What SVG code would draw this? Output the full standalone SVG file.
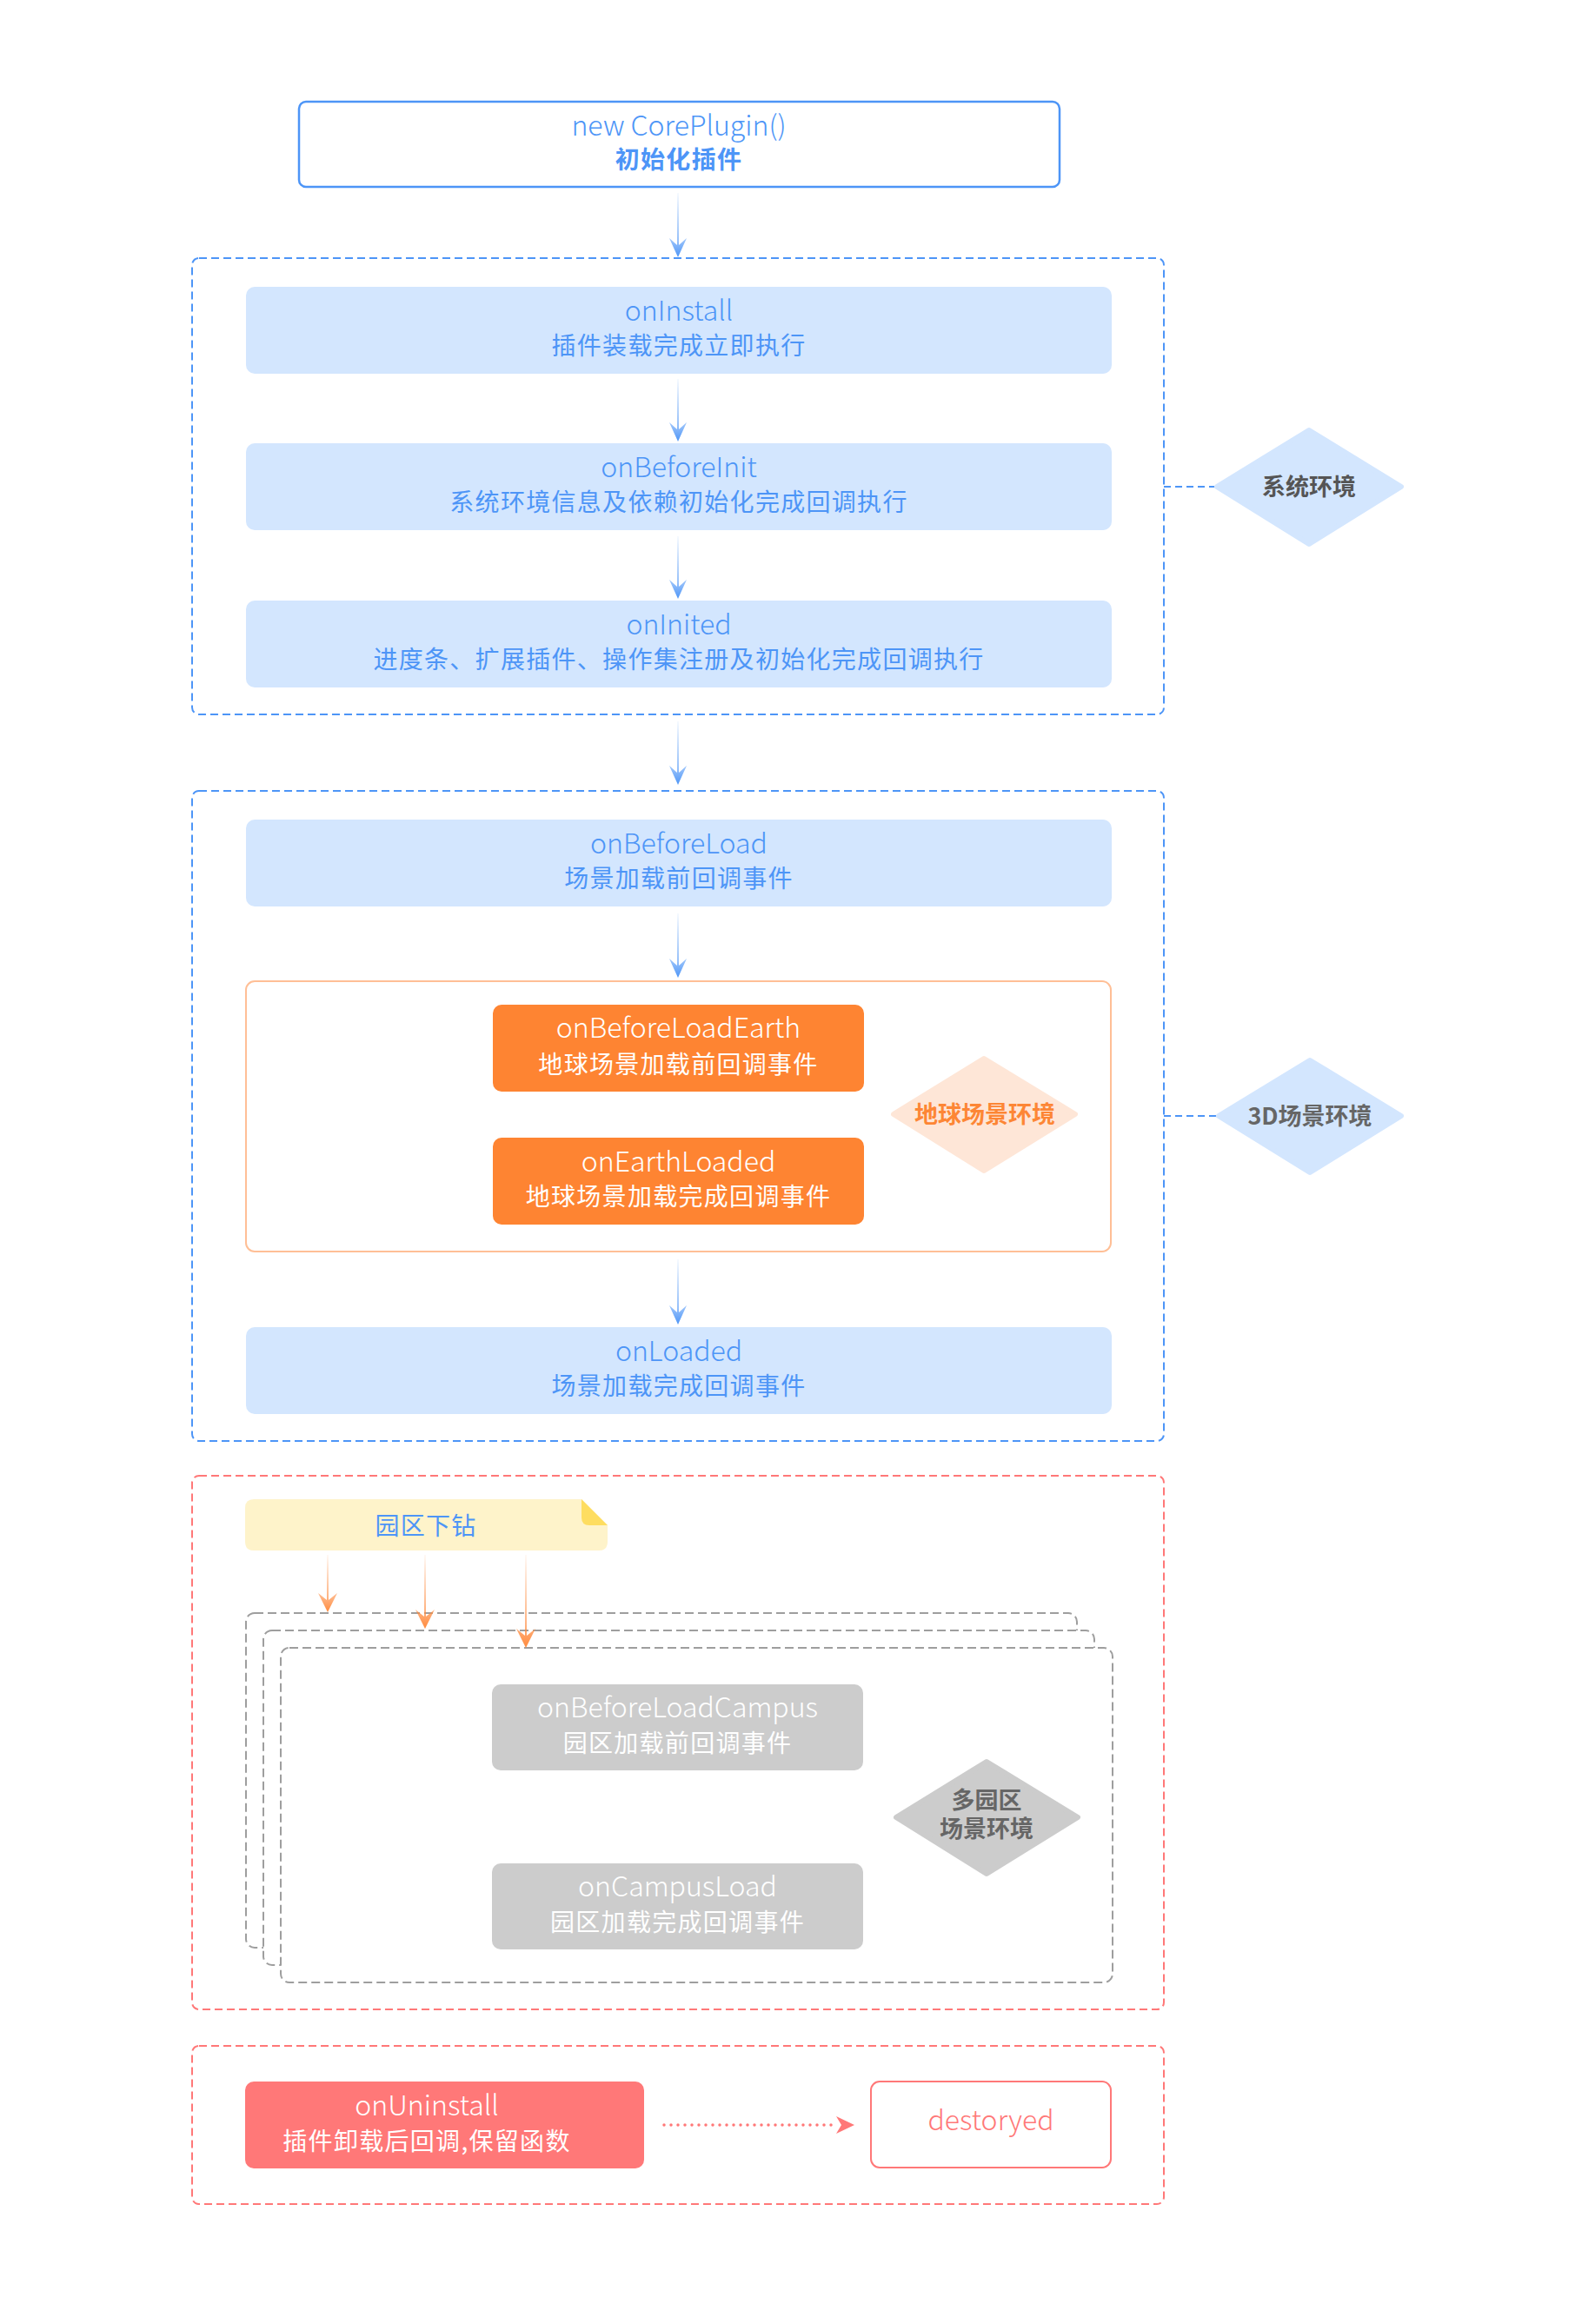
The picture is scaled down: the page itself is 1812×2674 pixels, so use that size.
<svg xmlns="http://www.w3.org/2000/svg" width="1812" height="2674" viewBox="0 0 1812 2674">
<defs>
<style>
.lat{font-family:"Noto Sans CJK SC","Noto Sans",sans-serif;font-weight:300;font-size:32px;text-anchor:middle}
.cjk{font-family:"Noto Sans CJK SC",sans-serif;font-size:28px;letter-spacing:1.3px;text-anchor:middle}
.dia{font-family:"Noto Sans CJK SC",sans-serif;font-size:27px;font-weight:700;text-anchor:middle}
.blue{fill:#4d95f7}
.wt{fill:#ffffff}
.bbox{fill:#d3e6fe}
.obox{fill:#fe8432}
.gbox{fill:#cccccc}
.bdash{fill:none;stroke:#4d95f7;stroke-width:2;stroke-dasharray:9 5}
.rdash{fill:none;stroke:#ff7878;stroke-width:2;stroke-dasharray:9 5}
.gdash{fill:#ffffff;stroke:#9e9e9e;stroke-width:2;stroke-dasharray:10 5}
.conn{fill:none;stroke:#4d95f7;stroke-width:2;stroke-dasharray:8 5}
</style>
<linearGradient id="gBlue" x1="0" y1="0" x2="0" y2="1">
<stop offset="0" stop-color="#4d95f7" stop-opacity="0.05"/>
<stop offset="0.75" stop-color="#4d95f7" stop-opacity="0.6"/>
<stop offset="1" stop-color="#4d95f7" stop-opacity="1"/>
</linearGradient>
<linearGradient id="gOr" x1="0" y1="0" x2="0" y2="1">
<stop offset="0" stop-color="#ff8a3d" stop-opacity="0.05"/>
<stop offset="0.75" stop-color="#ff8a3d" stop-opacity="0.65"/>
<stop offset="1" stop-color="#ff8a3d" stop-opacity="1"/>
</linearGradient>
<linearGradient id="gOrL" x1="0" y1="0" x2="0" y2="1">
<stop offset="0" stop-color="#ffa66b" stop-opacity="0.1"/>
<stop offset="1" stop-color="#ffa66b" stop-opacity="1"/>
</linearGradient>
<linearGradient id="gGr" x1="0" y1="0" x2="0" y2="1">
<stop offset="0" stop-color="#999999" stop-opacity="0.08"/>
<stop offset="0.75" stop-color="#999999" stop-opacity="0.6"/>
<stop offset="1" stop-color="#999999" stop-opacity="1"/>
</linearGradient>
</defs>
<rect width="1812" height="2674" fill="#ffffff"/>

<g id="blocks">
<rect id="sysBlock" x="221" y="297" width="1118" height="525" rx="8" class="bdash"/>
<rect id="sceneBlock" x="221" y="910" width="1118" height="748" rx="8" class="bdash"/>
<rect id="campusBlock" x="221" y="1698" width="1118" height="614" rx="8" class="rdash"/>
<rect id="uninstallBlock" x="221" y="2354" width="1118" height="182" rx="8" class="rdash"/>
</g>

<g id="connectors">
<line x1="1339" y1="560" x2="1397" y2="560" class="conn"/>
<line x1="1339" y1="1284" x2="1399" y2="1284" class="conn"/>
<path d="M779,222 H781 V282 L790,274 L780,296 L770,274 L779,282 Z" fill="url(#gBlue)"/>
<path d="M779,436 H781 V494 L790,486 L780,508 L770,486 L779,494 Z" fill="url(#gBlue)"/>
<path d="M779,617 H781 V675 L790,667 L780,689 L770,667 L779,675 Z" fill="url(#gBlue)"/>
<path d="M779,830 H781 V889 L790,881 L780,903 L770,881 L779,889 Z" fill="url(#gBlue)"/>
<path d="M779,1051 H781 V1111 L790,1103 L780,1125 L770,1103 L779,1111 Z" fill="url(#gBlue)"/>
<path d="M779,1261 H781 V1290 L790,1282 L780,1304 L770,1282 L779,1290 Z" fill="url(#gOrL)"/>
<path d="M779,1449 H781 V1510 L790,1502 L780,1524 L770,1502 L779,1510 Z" fill="url(#gBlue)"/>
<path d="M779,2048 H781 V2126 L790,2118 L780,2140 L770,2118 L779,2126 Z" fill="url(#gGr)"/>
<line x1="764" y1="2445" x2="960" y2="2445" stroke="#ff7878" stroke-width="3.5" stroke-linecap="round" stroke-dasharray="0 8"/>
<path d="M962,2435 L983,2445 L962,2455 L968,2445 Z" fill="#ff7878"/>
</g>

<g id="n-top">
<rect x="344" y="117" width="875" height="98" rx="8" fill="#ffffff" stroke="#4d95f7" stroke-width="2.5"/>
<text x="781" y="156" class="lat blue">new CorePlugin()</text>
<text x="781" y="194" class="cjk blue" font-weight="700">初始化插件</text>
</g>

<g id="n-onInstall">
<rect x="283" y="330" width="996" height="100" rx="10" class="bbox"/>
<text x="781" y="369" class="lat blue">onInstall</text>
<text x="781" y="408" class="cjk blue">插件装载完成立即执行</text>
</g>
<g id="n-onBeforeInit">
<rect x="283" y="510" width="996" height="100" rx="10" class="bbox"/>
<text x="781" y="549" class="lat blue">onBeforeInit</text>
<text x="781" y="588" class="cjk blue">系统环境信息及依赖初始化完成回调执行</text>
</g>
<g id="n-onInited">
<rect x="283" y="691" width="996" height="100" rx="10" class="bbox"/>
<text x="781" y="730" class="lat blue">onInited</text>
<text x="781" y="769" class="cjk blue">进度条、扩展插件、操作集注册及初始化完成回调执行</text>
</g>
<g id="n-sysEnv">
<polygon points="1400,560 1506,495 1612,560 1506,626" fill="#d3e6fe" stroke="#d3e6fe" stroke-width="6" stroke-linejoin="round"/>
<text x="1506" y="570" class="dia" fill="#555555">系统环境</text>
</g>

<g id="n-onBeforeLoad">
<rect x="283" y="943" width="996" height="100" rx="10" class="bbox"/>
<text x="781" y="982" class="lat blue">onBeforeLoad</text>
<text x="781" y="1021" class="cjk blue">场景加载前回调事件</text>
</g>
<g id="n-earthGroup">
<rect x="283" y="1129" width="995" height="311" rx="10" fill="#ffffff" stroke="#ffbf96" stroke-width="2"/>
</g>
<g id="n-onBeforeLoadEarth">
<rect x="567" y="1156" width="427" height="100" rx="10" class="obox"/>
<text x="780.5" y="1194" class="lat wt">onBeforeLoadEarth</text>
<text x="780.5" y="1235" class="cjk wt">地球场景加载前回调事件</text>
</g>
<g id="n-onEarthLoaded">
<rect x="567" y="1309" width="427" height="100" rx="10" class="obox"/>
<text x="780.5" y="1348" class="lat wt">onEarthLoaded</text>
<text x="780.5" y="1387" class="cjk wt">地球场景加载完成回调事件</text>
</g>
<g id="n-earthEnv">
<polygon points="1028,1282 1132,1218 1237,1282 1132,1347" fill="#fee6d7" stroke="#fee6d7" stroke-width="6" stroke-linejoin="round"/>
<text x="1133" y="1292" class="dia" fill="#fd8635" font-size="26">地球场景环境</text>
</g>
<g id="n-onLoaded">
<rect x="283" y="1527" width="996" height="100" rx="10" class="bbox"/>
<text x="781" y="1566" class="lat blue">onLoaded</text>
<text x="781" y="1605" class="cjk blue">场景加载完成回调事件</text>
</g>
<g id="n-3dEnv">
<polygon points="1402,1284 1507,1220 1612,1284 1507,1349" fill="#d3e6fe" stroke="#d3e6fe" stroke-width="6" stroke-linejoin="round"/>
<text x="1507" y="1294" class="dia" fill="#666666">3D场景环境</text>
</g>

<g id="n-campusNote">
<path d="M292,1725 H669 L699,1755 V1774 Q699,1784 689,1784 H292 Q282,1784 282,1774 V1735 Q282,1725 292,1725 Z" fill="#fef3ca"/>
<path d="M669,1725 L699,1755 H678 Q669,1755 669,1746 Z" fill="#fedd60"/>
<text x="490" y="1766" class="cjk blue">园区下钻</text>
</g>

<g id="n-campusStack">
<rect x="283" y="1856" width="956" height="385" rx="10" class="gdash"/>
<rect x="303" y="1876" width="956" height="385" rx="10" class="gdash"/>
<rect x="323" y="1896" width="957" height="385" rx="10" class="gdash"/>
</g>
<g id="campusArrows">
<path d="M376,1789 H378 V1841 L388,1833 L377,1855 L366,1833 L376,1841 Z" fill="url(#gOr)"/>
<path d="M488,1789 H490 V1860 L500,1852 L489,1874 L478,1852 L488,1860 Z" fill="url(#gOr)"/>
<path d="M604,1789 H606 V1882 L616,1874 L605,1896 L594,1874 L604,1882 Z" fill="url(#gOr)"/>
</g>
<g id="n-onBeforeLoadCampus">
<rect x="566" y="1938" width="427" height="99" rx="10" class="gbox"/>
<text x="779.5" y="1976" class="lat wt">onBeforeLoadCampus</text>
<text x="779.5" y="2016" class="cjk wt">园区加载前回调事件</text>
</g>
<g id="n-onCampusLoad">
<rect x="566" y="2144" width="427" height="99" rx="10" class="gbox"/>
<text x="779.5" y="2182" class="lat wt">onCampusLoad</text>
<text x="779.5" y="2222" class="cjk wt">园区加载完成回调事件</text>
</g>
<g id="n-multiCampus">
<polygon points="1031,2091 1135,2027 1240,2091 1135,2156" fill="#cccccc" stroke="#cccccc" stroke-width="6" stroke-linejoin="round"/>
<text x="1135" y="2081" class="dia" fill="#666666" font-weight="400">多园区</text>
<text x="1135" y="2114" class="dia" fill="#666666" font-weight="400">场景环境</text>
</g>

<g id="n-onUninstall">
<rect x="282" y="2395" width="459" height="100" rx="10" fill="#ff7878"/>
<text x="491" y="2434" class="lat wt">onUninstall</text>
<text x="491" y="2474" class="cjk wt">插件卸载后回调,保留函数</text>
</g>
<g id="n-destoryed">
<rect x="1002" y="2395" width="276" height="99" rx="10" fill="#ffffff" stroke="#ff7878" stroke-width="2"/>
<text x="1140" y="2451" class="lat" fill="#ff7878" font-weight="400" font-size="30">destoryed</text>
</g>
</svg>
